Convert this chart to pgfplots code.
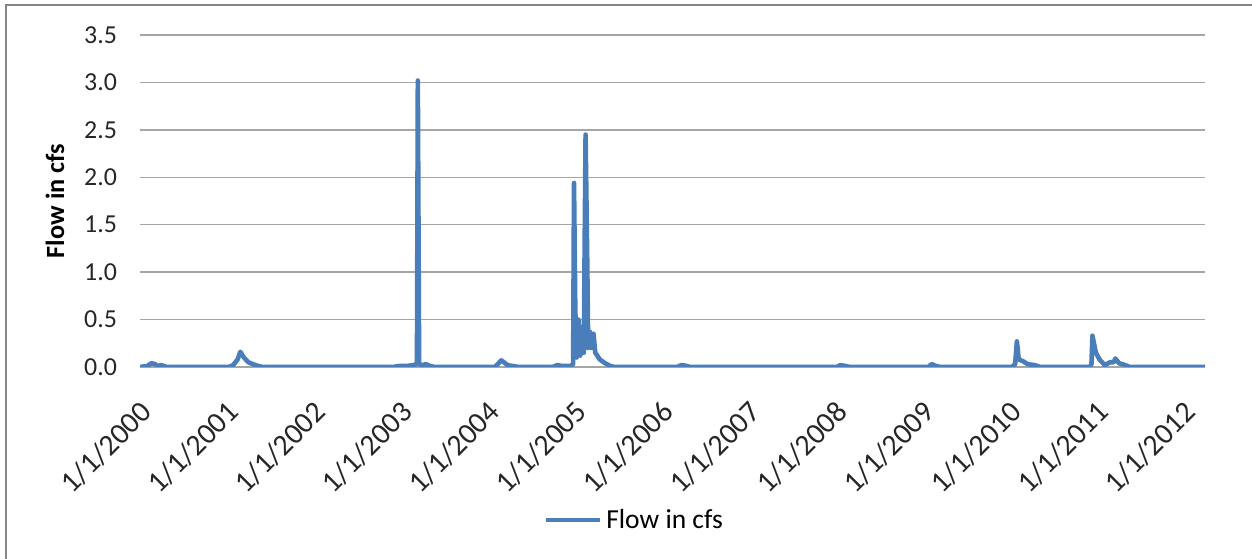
\documentclass[border=0pt]{standalone}
\usepackage{pgfplots}
\pgfplotsset{compat=1.18}
\usepackage{fontspec}
\setmainfont{Carlito}
\definecolor{flow}{RGB}{74,126,187}
\definecolor{gridc}{RGB}{166,166,166}
\definecolor{framec}{RGB}{134,134,134}
\begin{document}
\begin{tikzpicture}
\useasboundingbox (0bp,0bp) rectangle (626bp,279.5bp);
\draw[color=framec, line width=1.2bp] (3bp,-20bp) rectangle (700bp,277bp);
\begin{axis}[
  at={(70bp,96bp)}, anchor=south west,
  scale only axis, width=532.5bp, height=166bp,
  xmin=2000, xmax=2012.24, ymin=0, ymax=3.5,
  xtick={2000,2001,...,2012},
  xticklabels={1/1/2000,1/1/2001,1/1/2002,1/1/2003,1/1/2004,1/1/2005,1/1/2006,1/1/2007,1/1/2008,1/1/2009,1/1/2010,1/1/2011,1/1/2012},
  ytick={0,0.5,1,1.5,2,2.5,3,3.5},
  yticklabel style={/pgf/number format/fixed, /pgf/number format/fixed zerofill, /pgf/number format/precision=1, /pgf/number format/assume math mode=true, xshift=-8bp, font=\fontsize{13}{15}\selectfont},
  ymajorgrids, grid style={color=gridc, line width=0.75bp},
  separate axis lines,
  axis x line*=bottom, axis y line*=left,
  x axis line style={color=gridc, line width=0.75bp, -},
  y axis line style={draw=none},
  major tick length=0pt,
  tick label style={color=black!85},
  xticklabel style={rotate=45, anchor=north east, xshift=-8.5bp, yshift=-7.5bp, font=\fontsize{15}{17}\selectfont},
  ylabel={\textbf{Flow in cfs}},
  ylabel style={at={(axis description cs:-0.0798,0.5)}, anchor=center, font=\fontsize{13.2}{15}\selectfont},
  legend style={at={(axis description cs:0.465,-0.461)}, anchor=center, draw=none, fill=none, font=\fontsize{13.8}{15}\selectfont, inner sep=0pt},
  legend image code/.code={\draw[#1, line width=2.4bp] (0,0) -- (27bp,0);},
  legend cell align=left,
]
\addplot[color=flow, line width=2.3bp, line join=round] coordinates {
(2000.000,0) (2000.082,0.01) (2000.133,0.04) (2000.173,0.03) (2000.204,0.01) (2000.245,0.02) (2000.306,0)
(2001.020,0) (2001.071,0.02) (2001.122,0.08) (2001.153,0.16) (2001.194,0.10) (2001.245,0.05) (2001.326,0.02) (2001.408,0)
(2002.907,0) (2002.979,0.01) (2003.060,0.01) (2003.142,0.02) (2003.183,0.03) (2003.193,3.02) (2003.208,0.03) (2003.244,0.02) (2003.285,0.03) (2003.336,0.01) (2003.387,0)
(2004.080,0) (2004.121,0.04) (2004.152,0.07) (2004.182,0.05) (2004.223,0.02) (2004.284,0.01) (2004.356,0)
(2004.742,0) (2004.794,0.02) (2004.856,0.01) (2004.947,0.01) (2004.978,0.03) (2004.988,1.94) (2005.003,0.6) (2005.019,0.1) (2005.039,0.5) (2005.060,0.12) (2005.085,0.42) (2005.100,0.15) (2005.121,2.45) (2005.141,1.05) (2005.151,0.2) (2005.172,0.37) (2005.192,0.2) (2005.212,0.35) (2005.233,0.15) (2005.284,0.08) (2005.345,0.04) (2005.406,0.01) (2005.457,0)
(2006.172,0) (2006.223,0.02) (2006.263,0.015) (2006.324,0)
(2008.008,0) (2008.049,0.02) (2008.110,0.01) (2008.160,0)
(2009.058,0) (2009.099,0.03) (2009.150,0.01) (2009.201,0)
(2010.017,0) (2010.058,0.03) (2010.078,0.27) (2010.099,0.08) (2010.150,0.06) (2010.201,0.03) (2010.282,0.02) (2010.343,0)
(2010.915,0) (2010.935,0.03) (2010.946,0.33) (2010.986,0.15) (2011.027,0.08) (2011.088,0.02) (2011.149,0.05) (2011.190,0.05) (2011.210,0.09) (2011.251,0.04) (2011.323,0.02) (2011.374,0)
(2012.240,0)
};
\addlegendentry{Flow in cfs}
\end{axis}
\end{tikzpicture}
\end{document}
